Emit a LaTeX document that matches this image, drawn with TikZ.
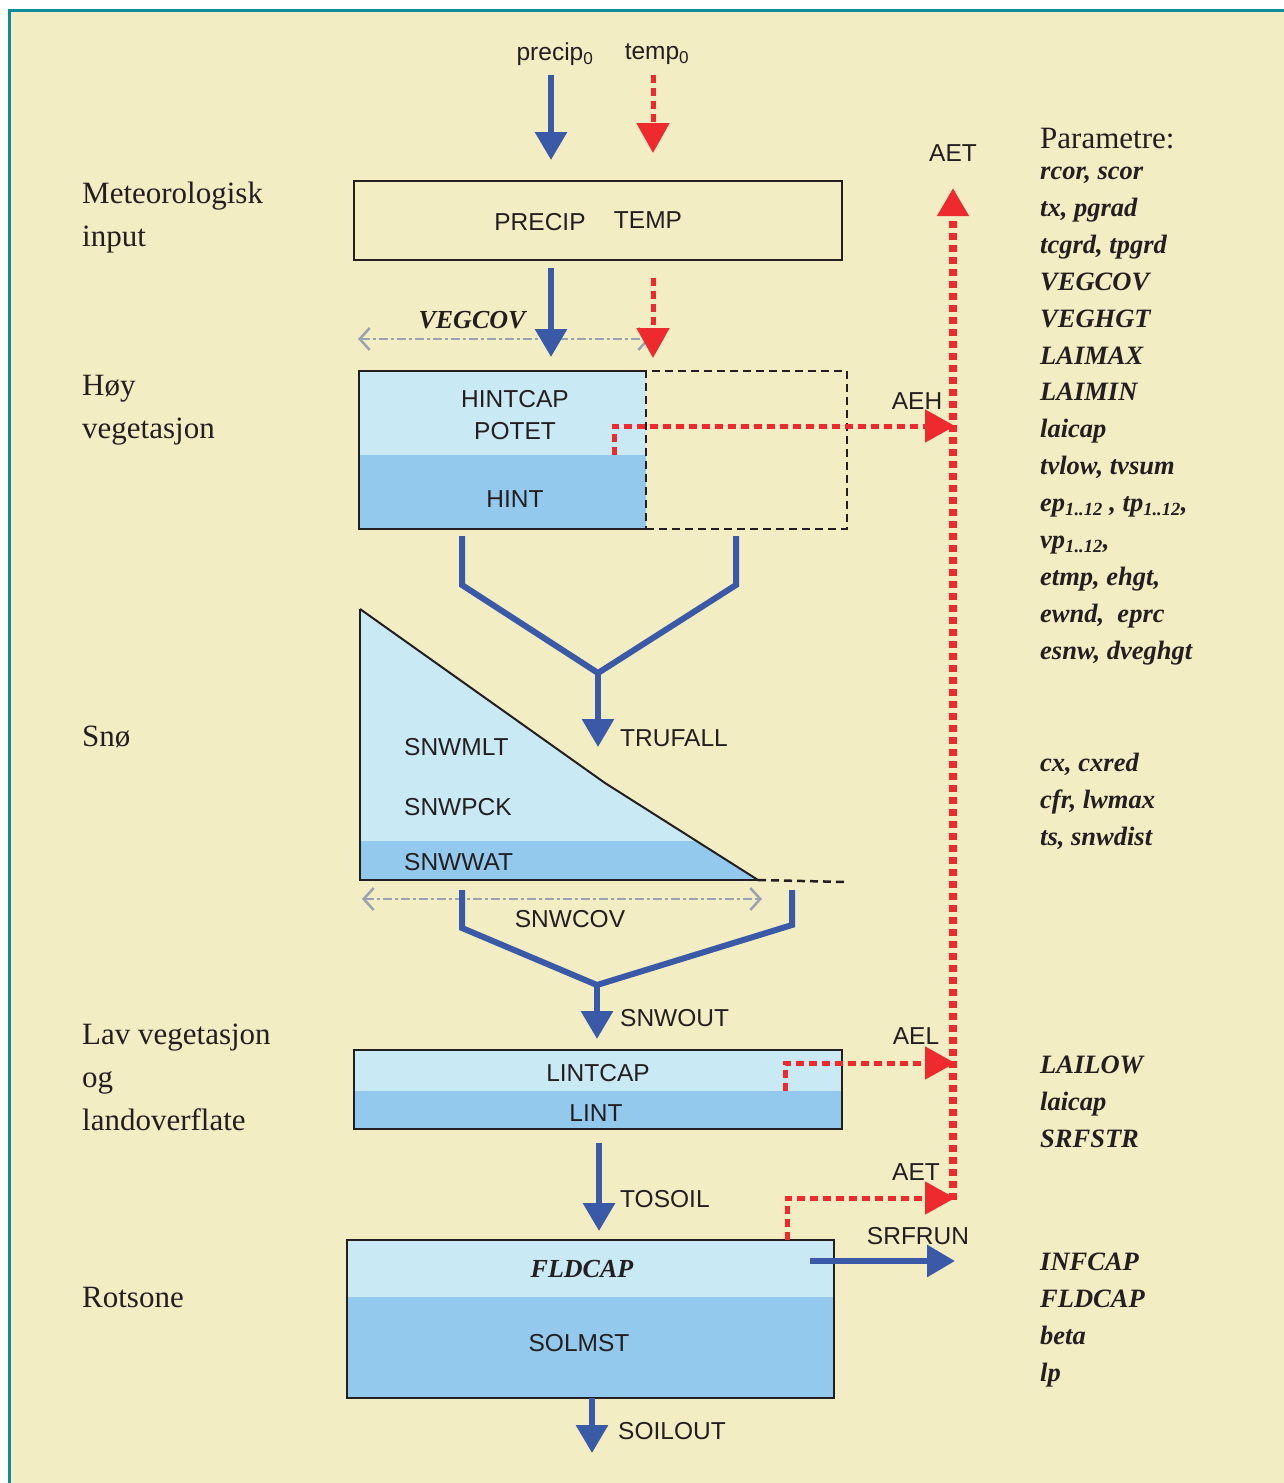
\documentclass[tikz,border=0pt]{standalone}
\usepackage{fontspec}
\setmainfont{Liberation Serif}
\setsansfont{Liberation Sans}
\usepackage{tikz}
\usetikzlibrary{arrows.meta,positioning,calc}
\definecolor{bg}{HTML}{F3EDC4}
\definecolor{framecol}{HTML}{0E8C9C}
\definecolor{lightbl}{HTML}{C9E9F5}
\definecolor{darkbl}{HTML}{92C9EC}
\definecolor{flowbl}{HTML}{3A5AA7}
\definecolor{evapred}{HTML}{EE2A2E}
\definecolor{covgrey}{HTML}{9BA3B0}
\definecolor{ink}{HTML}{231F20}

\begin{document}
\begin{tikzpicture}[x=1pt, y=-1pt,
  lab/.style={font=\sffamily\fontsize{24.5}{28}\selectfont, text=ink, inner sep=0pt},
  par/.style={font=\bfseries\itshape\fontsize{26.5}{36.9}\selectfont, text=ink, inner sep=0pt, align=left, anchor=west},
  zone/.style={font=\fontsize{31}{43}\selectfont, text=ink, inner sep=0pt, align=left, anchor=west},
  box/.style={draw=ink, line width=2.5pt, inner sep=0pt, outer sep=0pt},
  store/.style={box, fill=lightbl},
  wet/.style={path picture={\fill[darkbl] (path picture bounding box.south west) rectangle ([yshift=#1]path picture bounding box.south east);}},
  flow/.style={flowbl, line width=6pt},
  flowarr/.style={flow, -{Triangle[length=28pt,width=31pt]}},
  evap/.style={evapred, line width=5pt, dash pattern=on 8pt off 5pt},
  evaparr/.style={evap, -{Triangle[length=30pt,width=32pt]}},
  cover/.style={covgrey, line width=2.5pt, dash pattern=on 9pt off 3pt on 3pt off 3pt,
    {Straight Barb[length=10pt,width=22pt]}-{Straight Barb[length=10pt,width=22pt]}}]

\useasboundingbox (0,0) rectangle (1284,1483);
% bakgrunn og ramme
\fill[white] (0,0) rectangle (1284,1483);
\fill[bg] (9,10) rectangle (1284,1483);
\draw[framecol, line width=3pt] (9.5,1483) -- (9.5,10.5) -- (1284,10.5);

% soner til venstre
\node[zone] (met) at (82,218) {Meteorologisk\\input};
\node[zone] (hoyveg) at (82,410) {Høy\\vegetasjon};
\node[zone] (sno) at (82,737) {Snø};
\node[zone] (lavveg) at (82,1077) {Lav vegetasjon\\og\\landoverflate};
\node[zone] (rot) at (82,1297) {Rotsone};

% parametre til høyre
\node[zone] (parhead) at (1040,139) {Parametre:};
\node[par] (parmet) at (1040,416) {rcor, scor\\tx, pgrad\\tcgrd, tpgrd\\VEGCOV\\VEGHGT\\LAIMAX\\LAIMIN\\laicap\\tvlow, tvsum\\ep\textsubscript{1..12} , tp\textsubscript{1..12},\\vp\textsubscript{1..12},\\etmp, ehgt,\\ewnd,\ \ eprc\\esnw, dveghgt};
\node[par] (parsno) at (1040,801) {cx, cxred\\cfr, lwmax\\ts, snwdist};
\node[par] (parlav) at (1040,1102) {LAILOW\\laicap\\SRFSTR};
\node[par] (parrot) at (1040,1320) {INFCAP\\FLDCAP\\beta\\lp};

% meteorologisk input
\node[box, minimum width=488pt, minimum height=79pt] (metbox) at (598,220.5) {};
\node[lab] (precipin) at (540,222) {PRECIP};
\node[lab] (tempin) at (648,220) {TEMP};
\node[lab] (precip0) at (555,54) {precip\textsubscript{0}};
\node[lab] (temp0) at (657,54) {temp\textsubscript{0}};

% høy vegetasjon
\node[store, wet=74pt, draw=none, minimum width=287pt, minimum height=158pt] (hoy) at (502.5,450) {};
\draw[box] (hoy.north east) -- (hoy.north west) -- (hoy.south west) -- (hoy.south east);
\node[box, dash pattern=on 8pt off 5pt, minimum width=201pt, minimum height=158pt, right=0pt of hoy] (hoyx) {};
\node[lab] (hintcap) at (515,399) {HINTCAP};
\node[lab] (potet) at (515,431) {POTET};
\node[lab] (hint) at (515,499) {HINT};
\node[font=\bfseries\itshape\fontsize{26}{30}\selectfont, text=ink, inner sep=0pt] (vegcov) at (472,320) {VEGCOV};
\coordinate (vc1) at (358,339);
\coordinate (vc2) at (650,339);
\draw[cover] (vc1) -- (vc2);

% snø
\coordinate (snwtop) at (360,609);
\coordinate (snwknee) at (605,783);
\coordinate (snwbr) at (758,880);
\coordinate (snwbl) at (360,880);
\fill[lightbl] (snwtop) -- (snwknee) -- (snwbr) -- (snwbl) -- cycle;
\begin{scope}
  \clip (snwtop) -- (snwknee) -- (snwbr) -- (snwbl) -- cycle;
  \fill[darkbl] (360,841) rectangle (758,880);
\end{scope}
\draw[box, line join=miter] (snwtop) -- (snwbl) -- (snwbr);
\draw[ink, line width=2pt] (snwtop) -- (snwknee) -- (snwbr);
\draw[ink, line width=2.5pt, dash pattern=on 8pt off 5pt] (snwbr) -- (847,882);
\node[lab, anchor=west] (snwmlt) at (404,747) {SNWMLT};
\node[lab, anchor=west] (snwpck) at (404,807) {SNWPCK};
\node[lab, anchor=west] (snwwat) at (404,862) {SNWWAT};
\coordinate (sc1) at (362,899);
\coordinate (sc2) at (762,899);
\draw[cover] (sc1) -- (sc2);
\node[lab] (snwcov) at (570,919) {SNWCOV};

% lav vegetasjon
\node[store, wet=38pt, minimum width=488pt, minimum height=79pt] (lav) at (598,1089.5) {};
\node[lab] (lintcap) at (598,1073) {LINTCAP};
\node[lab] (lint) at (596,1113) {LINT};

% rotsone
\node[store, wet=101pt, minimum width=487pt, minimum height=158pt] (rotbox) at (590.5,1319) {};
\node[font=\bfseries\itshape\fontsize{26}{30}\selectfont, text=ink, inner sep=0pt] (fldcap) at (582,1269) {FLDCAP};
\node[lab] (solmst) at (579,1343) {SOLMST};

% fordampning
\coordinate (aebot) at (953,1200);
\coordinate (aetop) at (953,188);
\draw[evapred, line width=7.5pt, dash pattern=on 7pt off 5pt, -{Triangle[length=28pt,width=30pt]}] (aebot) -- (aetop);
\node[lab] (aet) at (953,153) {AET};
\coordinate (aehs) at (614,455);
\coordinate (aehe) at (955,426);
\draw[evaparr] (aehs) |- (aehe);
\node[lab] (aeh) at (917,401) {AEH};
\coordinate (aels) at (785,1091);
\coordinate (aele) at (955,1063);
\draw[evaparr] (aels) |- (aele);
\node[lab] (ael) at (916,1036) {AEL};
\coordinate (aets) at (787,1240);
\coordinate (aete) at (955,1198);
\draw[evaparr] (aets) |- (aete);
\node[lab] (aetl) at (916,1172) {AET};

% temperatur
\coordinate (t0a) at (653,75);
\coordinate (t0b) at (653,153);
\draw[evaparr] (t0a) -- (t0b);
\coordinate (t1a) at (653,278);
\coordinate (t1b) at (653,358);
\draw[evaparr] (t1a) -- (t1b);

% vannstrøm
\coordinate (p0a) at (551,75);
\coordinate (p0b) at (551,160);
\draw[flowarr] (p0a) -- (p0b);
\coordinate (p1a) at (551,268);
\coordinate (p1b) at (551,357);
\draw[flowarr] (p1a) -- (p1b);
\coordinate (tfmerge) at (598,673);
\draw[flow] (462,536) -- (462,585) -- (tfmerge) -- (736,585) -- (736,536);
\coordinate (tfend) at (598,747);
\draw[flowarr] (tfmerge) -- (tfend);
\node[lab, anchor=west] (trufall) at (620,738) {TRUFALL};
\coordinate (somerge) at (597,985);
\draw[flow] (462,890) -- (462,928) -- (somerge) -- (792,925) -- (792,890);
\coordinate (soend) at (597,1039);
\draw[flowarr] (somerge) -- (soend);
\node[lab, anchor=west] (snwout) at (620,1018) {SNWOUT};
\coordinate (tsa) at (599,1143);
\coordinate (tsb) at (599,1231);
\draw[flowarr] (tsa) -- (tsb);
\node[lab, anchor=west] (tosoil) at (620,1199) {TOSOIL};
\coordinate (sra) at (810,1261);
\coordinate (srb) at (955,1261);
\draw[flowarr] (sra) -- (srb);
\node[lab] (srfrun) at (918,1236) {SRFRUN};
\coordinate (sla) at (592,1398);
\coordinate (slb) at (592,1453);
\draw[flowarr] (sla) -- (slb);
\node[lab, anchor=west] (soilout) at (618,1431) {SOILOUT};
\end{tikzpicture}
\end{document}
